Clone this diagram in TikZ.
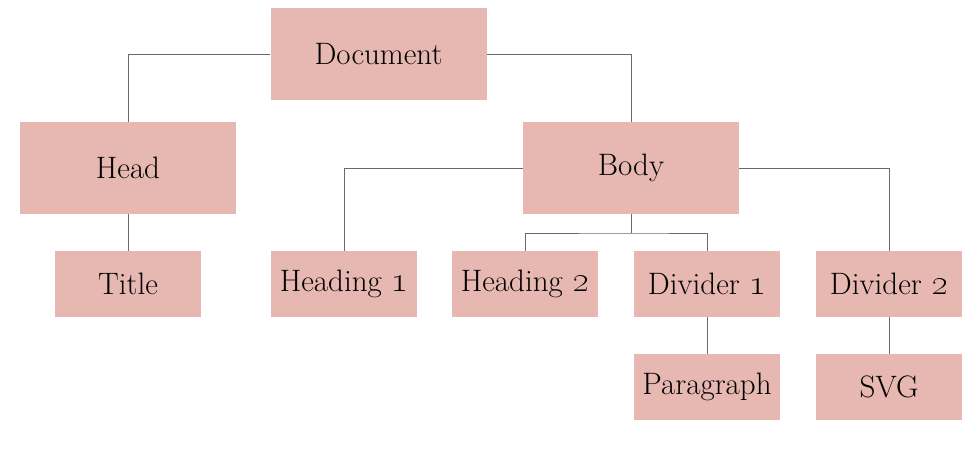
\documentclass[tikz,border=0pt]{standalone}
\usepackage{graphicx}
\definecolor{boxfill}{HTML}{E7B8B1}
\definecolor{linecol}{HTML}{6A6A6A}
\newcommand{\osnum}[1]{\scalebox{1.25}{\oldstylenums{#1}}}
\begin{document}
\begin{tikzpicture}[x=1pt,y=-1pt,
  box/.style={fill=boxfill,draw=none,inner sep=0pt,anchor=center,
    font=\fontsize{31}{34}\selectfont},
  big/.style={box,minimum width=216pt,minimum height=92pt},
  small/.style={box,minimum width=146pt,minimum height=66pt},
  conn/.style={draw=linecol,line width=0.8pt}]
\useasboundingbox (0,0) rectangle (979,453);
\node[big] (doc) at (378.5,54) {Document};
\node[big] (head) at (128,168) {Head};
\node[big] (body) at (631,168) {Body};
\node[small] (title) at (128,284) {Title};
\node[small] (h1) at (344,284) {Heading \osnum{1}};
\node[small] (h2) at (525,284) {Heading \osnum{2}};
\node[small] (d1) at (707,284) {Divider \osnum{1}};
\node[small] (d2) at (889,284) {Divider \osnum{2}};
\node[small] (para) at (707,387) {Paragraph};
\node[small] (svg) at (889,387) {SVG};
\coordinate (split) at (631,233);
\draw[conn] (doc.west) -| (head.north);
\draw[conn] (doc.east) -| (body.north);
\draw[conn] (head.south) -- (title.north);
\draw[conn] (body.west) -| (h1.north);
\draw[conn] (body.east) -| (d2.north);
\draw[conn] (body.south) -- (split);
\draw[conn] (h2.north) |- (split) -| (d1.north);
\draw[conn] (d1.south) -- (para.north);
\draw[conn] (d2.south) -- (svg.north);
\end{tikzpicture}
\end{document}
